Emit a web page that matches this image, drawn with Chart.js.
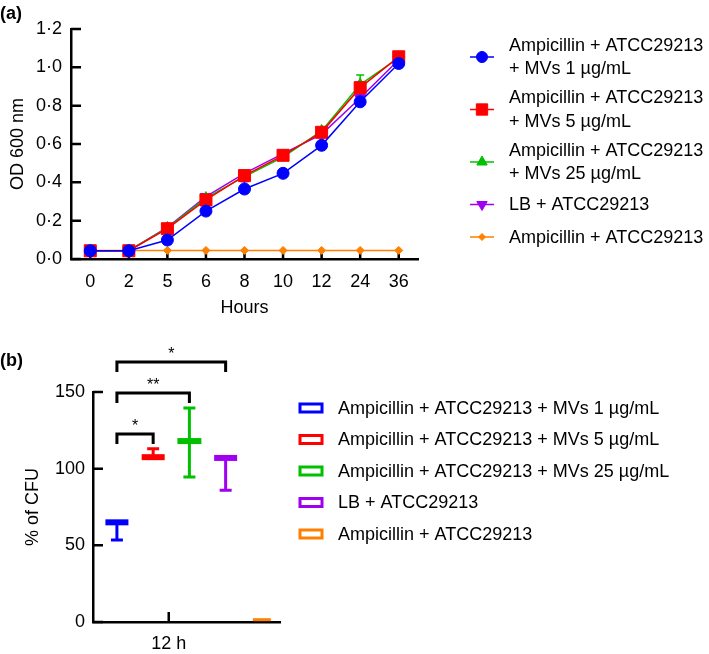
<!DOCTYPE html>
<html lang="en">
<head>
<meta charset="UTF-8">
<title>Growth and CFU</title>
<script src="https://cdn.jsdelivr.net/npm/chart.js"></script>
<style>
  body { margin: 0; background: #fff; }
  canvas { position: absolute; left: 0; }
  .tag { position: absolute; left: 0; font: bold 18px "Liberation Sans", Arial, sans-serif; line-height: 20px; }
</style>
</head>
<body>
<canvas id="growthChart" width="709" height="320" style="top:0"></canvas>
<canvas id="cfuChart" width="709" height="336" style="top:318px"></canvas>
<div class="tag" style="top:3px">(a)</div>
<div class="tag" style="top:350px">(b)</div>

<script>
// ---- panel (a) data: OD 600 nm over time ----
const hours = ['0', '2', '5', '6', '8', '10', '12', '24', '36'];
const od1   = [0.043, 0.043, 0.099, 0.250, 0.365, 0.447, 0.593, 0.820, 1.020];
const od5   = [0.043, 0.043, 0.158, 0.308, 0.435, 0.541, 0.661, 0.894, 1.055];
const od25  = [0.043, 0.043, 0.162, 0.318, 0.430, 0.532, 0.668, 0.910, 1.050];
const odLB  = [0.043, 0.043, 0.165, 0.325, 0.447, 0.550, 0.650, 0.840, 1.040];
const odAmp = [0.045, 0.045, 0.045, 0.045, 0.045, 0.045, 0.045, 0.045, 0.045];
const sd1   = [0.005, 0.005, 0.010, 0.015, 0.040, 0.020, 0.015, 0.020, 0.010];
const sd5   = [0.005, 0.005, 0.010, 0.010, 0.010, 0.010, 0.010, 0.010, 0.010];
const sd25  = [0.005, 0.005, 0.010, 0.010, 0.010, 0.010, 0.012, 0.050, 0.010];
const sdLB  = [0.005, 0.005, 0.010, 0.010, 0.010, 0.010, 0.010, 0.020, 0.010];
const sdAmp = [0, 0, 0, 0, 0, 0, 0, 0, 0];
const odTicks = [0, 0.2, 0.4, 0.6, 0.8, 1.0, 1.2];

const growthNames = [
  ['Ampicillin + ATCC29213', '+ MVs 1 \u00b5g/mL'],
  ['Ampicillin + ATCC29213', '+ MVs 5 \u00b5g/mL'],
  ['Ampicillin + ATCC29213', '+ MVs 25 \u00b5g/mL'],
  ['LB + ATCC29213'],
  ['Ampicillin + ATCC29213']
];

// ---- panel (b) data: % of CFU at 12 h ----
const cfuNames = [
  'Ampicillin + ATCC29213 + MVs 1 \u00b5g/mL',
  'Ampicillin + ATCC29213 + MVs 5 \u00b5g/mL',
  'Ampicillin + ATCC29213 + MVs 25 \u00b5g/mL',
  'LB + ATCC29213',
  'Ampicillin + ATCC29213'
];
const cfuMean    = [65, 107.5, 118, 107, 1.5];
const cfuErrUp   = [0, 5.5, 21.5, 0, 0];
const cfuErrDown = [11.5, 0, 23.5, 21, 0];
const cfuTicks = [0, 50, 100, 150];
const cfuTimeLabels = ['12 h'];
const sigPairs  = [[0, 1], [0, 2], [0, 3]];
const sigLevels = [122.6, 149.3, 169.5];
const sigMarks  = ['*', '**', '*'];

const colors = ['#0000ff', '#ff0000', '#00c000', '#a000f0', '#ff8000'];
const FONT = '"Liberation Sans", Arial, sans-serif';

Chart.defaults.font.family = FONT;
Chart.defaults.font.size = 18;
Chart.defaults.color = '#000';

// inward tick marks, like the original figure
const innerTicks = {
  id: 'innerTicks',
  beforeDatasetsDraw(chart, args, opts) {
    const ctx = chart.ctx, xs = chart.scales.x, ys = chart.scales.y;
    ctx.save();
    ctx.strokeStyle = '#000';
    ctx.lineWidth = 2.5;
    ctx.beginPath();
    xs.ticks.forEach((t, i) => {
      const px = xs.getPixelForTick(i);
      ctx.moveTo(px, xs.top);
      ctx.lineTo(px, xs.top - opts.xLen);
    });
    ys.ticks.forEach((t, i) => {
      const py = ys.getPixelForTick(i);
      ctx.moveTo(ys.right, py);
      ctx.lineTo(ys.right + opts.yLen, py);
    });
    ctx.stroke();
    ctx.restore();
  }
};

function marker(ctx, style, x, y) {
  if (Chart.helpers && Chart.helpers.drawPoint) {
    Chart.helpers.drawPoint(ctx, style, x, y);
  } else {
    ctx.beginPath();
    ctx.arc(x, y, style.radius, 0, Math.PI * 2);
    ctx.fill();
  }
}

// ---------- (a) growth curves ----------
const growthSeries = [od1, od5, od25, odLB, odAmp];
const growthSd = [sd1, sd5, sd25, sdLB, sdAmp];
const pointStyles = [
  { pointStyle: 'circle', radius: 6, rotation: 0 },
  { pointStyle: 'rect', radius: 8.5, rotation: 0 },
  { pointStyle: 'triangle', radius: 6.5, rotation: 0 },
  { pointStyle: 'triangle', radius: 6.5, rotation: 180 },
  { pointStyle: 'rectRot', radius: 4, rotation: 0 }
];

const growthErrors = {
  id: 'growthErrors',
  beforeDatasetsDraw(chart) {
    const ctx = chart.ctx, xs = chart.scales.x, ys = chart.scales.y;
    ctx.save();
    ctx.lineWidth = 1.5;
    growthSeries.forEach((vals, i) => {
      ctx.strokeStyle = colors[i];
      vals.forEach((v, j) => {
        const e = growthSd[i][j];
        if (!e) return;
        const px = xs.getPixelForValue(j);
        const y0 = ys.getPixelForValue(v), y1 = ys.getPixelForValue(v + e);
        ctx.beginPath();
        ctx.moveTo(px, y0); ctx.lineTo(px, y1);
        ctx.moveTo(px - 4, y1); ctx.lineTo(px + 4, y1);
        ctx.stroke();
      });
    });
    ctx.restore();
  }
};

const growthLegendY = [57, 109.5, 162, 204.5, 237];
const growthLegend = {
  id: 'growthLegend',
  afterDraw(chart) {
    const ctx = chart.ctx;
    ctx.save();
    ctx.font = '18px ' + FONT;
    ctx.textBaseline = 'middle';
    growthNames.forEach((lines, i) => {
      const my = growthLegendY[i];
      ctx.strokeStyle = colors[i];
      ctx.lineWidth = 1.5;
      ctx.beginPath(); ctx.moveTo(470, my); ctx.lineTo(494, my); ctx.stroke();
      ctx.fillStyle = colors[i];
      ctx.lineWidth = 1;
      marker(ctx, Object.assign({ borderWidth: 1 }, pointStyles[i], { radius: pointStyles[i].radius - 0.5 }), 482, my);
      ctx.fillStyle = '#000';
      if (lines.length === 1) {
        ctx.fillText(lines[0], 509, my + 1);
      } else {
        ctx.fillText(lines[0], 509, my - 11);
        ctx.fillText(lines[1], 509, my + 12.5);
      }
    });
    ctx.restore();
  }
};

new Chart(document.getElementById('growthChart'), {
  type: 'line',
  data: {
    labels: hours,
    datasets: growthSeries.map((vals, i) => ({
      label: growthNames[i].join(' '),
      data: vals,
      borderColor: colors[i],
      backgroundColor: colors[i],
      borderWidth: 1.5,
      pointStyle: pointStyles[i].pointStyle,
      pointRadius: pointStyles[i].radius,
      pointRotation: pointStyles[i].rotation,
      pointBorderWidth: 1,
      tension: 0,
      fill: false
    }))
  },
  options: {
    responsive: false,
    animation: false,
    layout: { padding: { top: 29, right: 291, left: 0, bottom: 0 } },
    plugins: { legend: { display: false }, tooltip: { enabled: false }, innerTicks: { xLen: 9, yLen: 10 } },
    scales: {
      x: {
        offset: true,
        grid: { display: false, drawTicks: false },
        border: { color: '#000', width: 2.5 },
        ticks: { padding: 12, maxRotation: 0, autoSkip: false },
        title: { display: true, text: 'Hours', padding: { top: 0, bottom: 1 } },
        afterFit: s => { s.height = 61; }
      },
      y: {
        min: 0, max: 1.2,
        afterBuildTicks: s => { s.ticks = odTicks.map(v => ({ value: v })); },
        grid: { display: false, drawTicks: false },
        border: { color: '#000', width: 2.5 },
        ticks: { padding: 9, callback: v => v.toFixed(1).replace('.', '\u00b7') },
        title: { display: true, text: 'OD 600 nm', padding: { top: 7, bottom: 0 } },
        afterFit: s => { s.width = 71; }
      }
    }
  },
  plugins: [innerTicks, growthErrors, growthLegend]
});

// ---------- (b) % of CFU ----------
const cfuShape = [
  { half: 11.5, thick: 6 },
  { half: 11.5, thick: 6 },
  { half: 12, thick: 6 },
  { half: 11.5, thick: 6 },
  { half: 9, thick: 3 }
];

const cfuErrors = {
  id: 'cfuErrors',
  afterDatasetsDraw(chart) {
    const ctx = chart.ctx, xs = chart.scales.x, ys = chart.scales.y;
    ctx.save();
    ctx.lineWidth = 3;
    cfuMean.forEach((m, i) => {
      const px = xs.getPixelForValue(i + 1);
      ctx.strokeStyle = colors[i];
      [[cfuErrUp[i], 1], [cfuErrDown[i], -1]].forEach(([e, dir]) => {
        if (!e) return;
        const y0 = ys.getPixelForValue(m), y1 = ys.getPixelForValue(m + dir * e);
        ctx.beginPath();
        ctx.moveTo(px, y0); ctx.lineTo(px, y1);
        ctx.moveTo(px - 6, y1); ctx.lineTo(px + 6, y1);
        ctx.stroke();
      });
    });
    ctx.restore();
  }
};

const cfuBrackets = {
  id: 'cfuBrackets',
  afterDraw(chart) {
    const ctx = chart.ctx, xs = chart.scales.x, ys = chart.scales.y;
    ctx.save();
    ctx.strokeStyle = '#000';
    ctx.fillStyle = '#000';
    ctx.lineWidth = 3;
    ctx.font = '16px ' + FONT;
    ctx.textAlign = 'center';
    ctx.textBaseline = 'alphabetic';
    sigPairs.forEach(([a, b], k) => {
      const xa = xs.getPixelForValue(a + 1), xb = xs.getPixelForValue(b + 1);
      const yt = ys.getPixelForValue(sigLevels[k]);
      ctx.beginPath();
      ctx.moveTo(xa, yt + 10); ctx.lineTo(xa, yt); ctx.lineTo(xb, yt); ctx.lineTo(xb, yt + 10);
      ctx.stroke();
      ctx.fillText(sigMarks[k], (xa + xb) / 2, yt - 3);
    });
    ctx.restore();
  }
};

const cfuLegendY = [90, 121.5, 153, 184.5, 216];
const cfuLegend = {
  id: 'cfuLegend',
  afterDraw(chart) {
    const ctx = chart.ctx;
    ctx.save();
    ctx.font = '18px ' + FONT;
    ctx.textBaseline = 'middle';
    cfuNames.forEach((name, i) => {
      const my = cfuLegendY[i];
      ctx.fillStyle = '#fff';
      ctx.strokeStyle = colors[i];
      ctx.lineWidth = 3;
      ctx.fillRect(300, my - 4, 22, 8);
      ctx.strokeRect(300, my - 4, 22, 8);
      ctx.fillStyle = '#000';
      ctx.fillText(name, 338, my + 1);
    });
    ctx.restore();
  }
};

new Chart(document.getElementById('cfuChart'), {
  type: 'scatter',
  data: {
    datasets: cfuMean.map((m, i) => ({
      label: cfuNames[i],
      data: [{ x: i + 1, y: m }],
      pointStyle: 'line',
      pointRadius: cfuShape[i].half,
      pointBorderWidth: cfuShape[i].thick,
      borderColor: colors[i],
      backgroundColor: colors[i],
      clip: false
    }))
  },
  options: {
    responsive: false,
    animation: false,
    layout: { padding: { top: 74, right: 429, left: 0, bottom: 0 } },
    plugins: { legend: { display: false }, tooltip: { enabled: false }, innerTicks: { xLen: 10, yLen: 10 } },
    scales: {
      x: {
        type: 'linear', min: 0.34, max: 5.5,
        afterBuildTicks: s => { s.ticks = [{ value: 2.43 }]; },
        grid: { display: false, drawTicks: false },
        border: { color: '#000', width: 2.5 },
        ticks: { padding: 11, maxRotation: 0, autoSkip: false, callback: (v, i) => cfuTimeLabels[i] },
        afterFit: s => { s.height = 32; }
      },
      y: {
        min: 0, max: 150,
        afterBuildTicks: s => { s.ticks = cfuTicks.map(v => ({ value: v })); },
        grid: { display: false, drawTicks: false },
        border: { color: '#000', width: 2.5 },
        ticks: { padding: 8 },
        title: { display: true, text: '% of CFU', padding: { top: 22, bottom: 0 } },
        afterFit: s => { s.width = 93; }
      }
    }
  },
  plugins: [innerTicks, cfuErrors, cfuBrackets, cfuLegend]
});
</script>
</body>
</html>
